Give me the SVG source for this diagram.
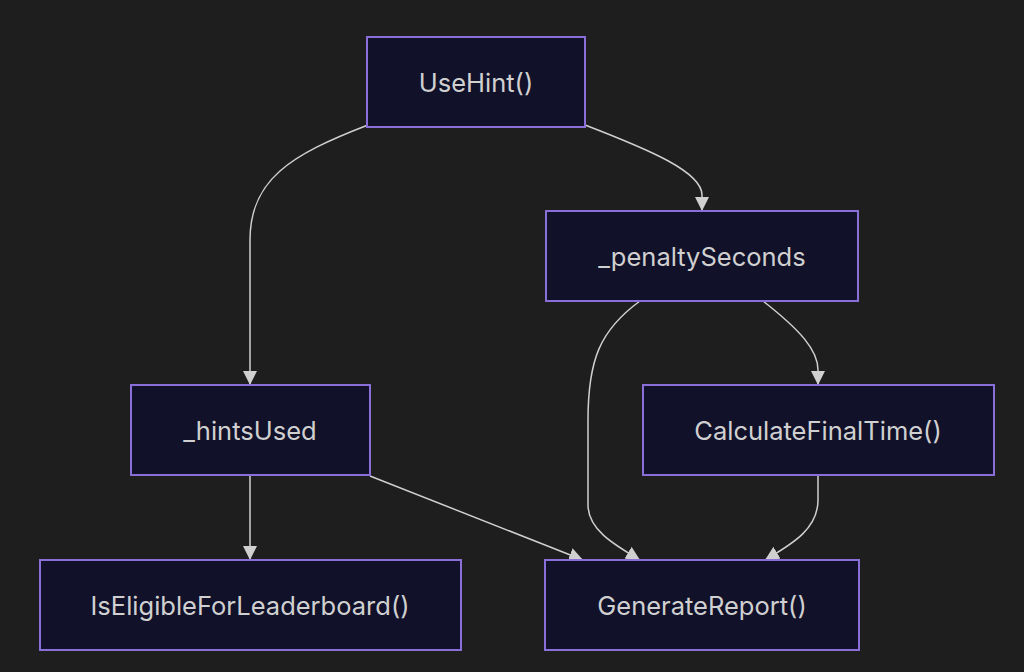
<svg xmlns="http://www.w3.org/2000/svg" width="1024" height="672" viewBox="0 0 1024 672">
<style>
.node rect{fill:#11112a;stroke:#8b6fd8;stroke-width:2}
.node text{fill:#d0d0d0;font-family:Inter,"Noto Sans",sans-serif;font-size:25.5px;text-anchor:middle;dominant-baseline:central}
.edge{fill:none;stroke:#d0d0d0;stroke-width:1.5}
</style>
<defs>
<marker id="arr" markerUnits="userSpaceOnUse" markerWidth="14" markerHeight="14" viewBox="0 0 12 12" refX="12" refY="6" orient="auto">
<path d="M0,0 L12,6 L0,12 z" fill="#d0d0d0"/>
</marker>
</defs>
<rect width="1024" height="672" fill="#1e1e1e"/>
<g id="connectors">
<path class="edge" d="M368,125 C290,155 250,180 250,240 L250,385" marker-end="url(#arr)"/>
<path class="edge" d="M585,125 C650,150 702,172 702,195 L702,211" marker-end="url(#arr)"/>
<path class="edge" d="M640,301 C600,330 588,360 588,420 L588,505 C588,530 615,545 640,560" marker-end="url(#arr)"/>
<path class="edge" d="M763,301 C800,330 818,350 818,370 L818,385" marker-end="url(#arr)"/>
<path class="edge" d="M250,476 L250,560" marker-end="url(#arr)"/>
<path class="edge" d="M370,476 L583,560" marker-end="url(#arr)"/>
<path class="edge" d="M818,476 L818,500 C818,530 790,545 765,560" marker-end="url(#arr)"/>
</g>
<g id="UseHint" class="node"><rect x="367" y="37" width="218" height="90"/><text x="476" y="82">UseHint()</text></g>
<g id="penaltySeconds" class="node"><rect x="546" y="211" width="312" height="90"/><text x="702" y="256">_penaltySeconds</text></g>
<g id="hintsUsed" class="node"><rect x="131" y="385" width="239" height="90"/><text x="250" y="430">_hintsUsed</text></g>
<g id="CalculateFinalTime" class="node"><rect x="643" y="385" width="351" height="90"/><text x="818" y="430">CalculateFinalTime()</text></g>
<g id="IsEligibleForLeaderboard" class="node"><rect x="40" y="560" width="421" height="90"/><text x="250" y="605">IsEligibleForLeaderboard()</text></g>
<g id="GenerateReport" class="node"><rect x="545" y="560" width="314" height="90"/><text x="702" y="605">GenerateReport()</text></g>
</svg>
